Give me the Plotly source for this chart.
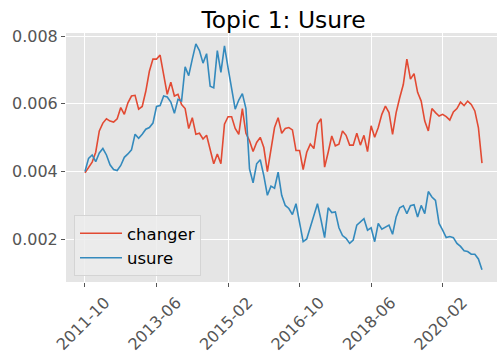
import pandas as pd
import plotly.graph_objects as go

# Monthly topic shares, Oct 2011 through Jan 2021
months = list(pd.period_range("2011-10", periods=112, freq="M").strftime("%Y-%m"))

changer = [
    0.00396, 0.00413, 0.00428, 0.00457, 0.00520, 0.00543, 0.00556, 0.00549, 0.00546, 0.00556,
    0.00589, 0.00569, 0.00603, 0.00623, 0.00625, 0.00584, 0.00592, 0.00637, 0.00696, 0.00732,
    0.00732, 0.00744, 0.00686, 0.00628, 0.00664, 0.00623, 0.00628, 0.00598, 0.00586, 0.00527,
    0.00559, 0.00510, 0.00513, 0.00496, 0.00507, 0.00466, 0.00423, 0.00452, 0.00423, 0.00540,
    0.00562, 0.00562, 0.00527, 0.00510, 0.00586, 0.00513, 0.00491, 0.00459, 0.00486, 0.00501,
    0.00471, 0.00400, 0.00466, 0.00530, 0.00559, 0.00513, 0.00527, 0.00530, 0.00523, 0.00462,
    0.00462, 0.00406, 0.00457, 0.00481, 0.00468, 0.00540, 0.00556, 0.00413, 0.00457, 0.00505,
    0.00476, 0.00481, 0.00520, 0.00507, 0.00478, 0.00478, 0.00513, 0.00478, 0.00507, 0.00459,
    0.00535, 0.00501, 0.00530, 0.00569, 0.00593, 0.00574, 0.00510, 0.00574, 0.00618, 0.00657,
    0.00732, 0.00673, 0.00689, 0.00634, 0.00608, 0.00549, 0.00520, 0.00586, 0.00574, 0.00564,
    0.00569, 0.00562, 0.00552, 0.00576, 0.00586, 0.00605, 0.00595, 0.00608, 0.00598, 0.00579,
    0.00530, 0.00425,
]

usure = [
    0.00400, 0.00439, 0.00449, 0.00429, 0.00455, 0.00468, 0.00449, 0.00420, 0.00406, 0.00403,
    0.00418, 0.00442, 0.00452, 0.00464, 0.00510, 0.00498, 0.00510, 0.00525, 0.00530, 0.00543,
    0.00592, 0.00595, 0.00623, 0.00620, 0.00605, 0.00572, 0.00613, 0.00608, 0.00709, 0.00683,
    0.00732, 0.00777, 0.00757, 0.00720, 0.00748, 0.00652, 0.00647, 0.00757, 0.00693, 0.00771,
    0.00706, 0.00640, 0.00584, 0.00611, 0.00630, 0.00586, 0.00408, 0.00367, 0.00423, 0.00435,
    0.00388, 0.00330, 0.00357, 0.00351, 0.00398, 0.00330, 0.00300, 0.00291, 0.00273, 0.00305,
    0.00252, 0.00193, 0.00201, 0.00237, 0.00276, 0.00305, 0.00257, 0.00205, 0.00293, 0.00279,
    0.00281, 0.00234, 0.00211, 0.00203, 0.00188, 0.00198, 0.00242, 0.00252, 0.00261, 0.00227,
    0.00234, 0.00193, 0.00247, 0.00230, 0.00237, 0.00242, 0.00215, 0.00266, 0.00293, 0.00299,
    0.00276, 0.00299, 0.00302, 0.00266, 0.00300, 0.00276, 0.00341, 0.00325, 0.00315, 0.00247,
    0.00227, 0.00205, 0.00208, 0.00205, 0.00188, 0.00179, 0.00166, 0.00164, 0.00156, 0.00156,
    0.00142, 0.00110,
]

x_ticks = ["2011-10", "2013-06", "2015-02", "2016-10", "2018-06", "2020-02"]
y_ticks = [0.002, 0.004, 0.006, 0.008]

FONT = "DejaVu Sans"
TICK_GREY = "#555555"

fig = go.Figure()
fig.add_trace(go.Scatter(x=months, y=changer, name="changer", mode="lines",
                         line=dict(color="#E24A33", width=1.6)))
fig.add_trace(go.Scatter(x=months, y=usure, name="usure", mode="lines",
                         line=dict(color="#348ABD", width=1.6)))

fig.update_layout(
    width=497, height=354,
    margin=dict(l=66, r=0, t=33, b=70),
    paper_bgcolor="white",
    plot_bgcolor="#E5E5E5",
    font=dict(family=FONT, size=16, color=TICK_GREY),
    title=dict(text="Topic 1: Usure", x=(283.5) / 497, xanchor="center",
               y=1 - 20 / 354, yanchor="middle", yref="container",
               font=dict(family=FONT, size=23.4, color="black")),
    legend=dict(x=(74 - 66) / 431, y=(284 - 278) / 251, xanchor="left", yanchor="bottom",
                bgcolor="rgba(236,236,236,0.85)", bordercolor="#d4d4d4", borderwidth=1,
                itemwidth=42, tracegroupgap=0,
                font=dict(family=FONT, size=16.5, color="black")),
    showlegend=True,
)

fig.update_xaxes(
    type="category",
    range=[-5.31, 115.2],
    tickmode="array", tickvals=x_ticks, ticktext=x_ticks,
    tickangle=-45, ticklabelshift=20,
    ticks="outside", ticklen=4, tickcolor=TICK_GREY,
    showgrid=True, gridcolor="white", gridwidth=1,
    zeroline=False, showline=False,
    tickfont=dict(family=FONT, size=16, color=TICK_GREY),
)
fig.update_yaxes(
    range=[0.00074, 0.00809],
    tickmode="array", tickvals=y_ticks, ticktext=[f"{v:.3f}" for v in y_ticks],
    ticks="outside", ticklen=4, tickcolor=TICK_GREY,
    showgrid=True, gridcolor="white", gridwidth=1,
    zeroline=False, showline=False,
    tickfont=dict(family=FONT, size=16, color=TICK_GREY),
)

fig.write_html("out.html")
